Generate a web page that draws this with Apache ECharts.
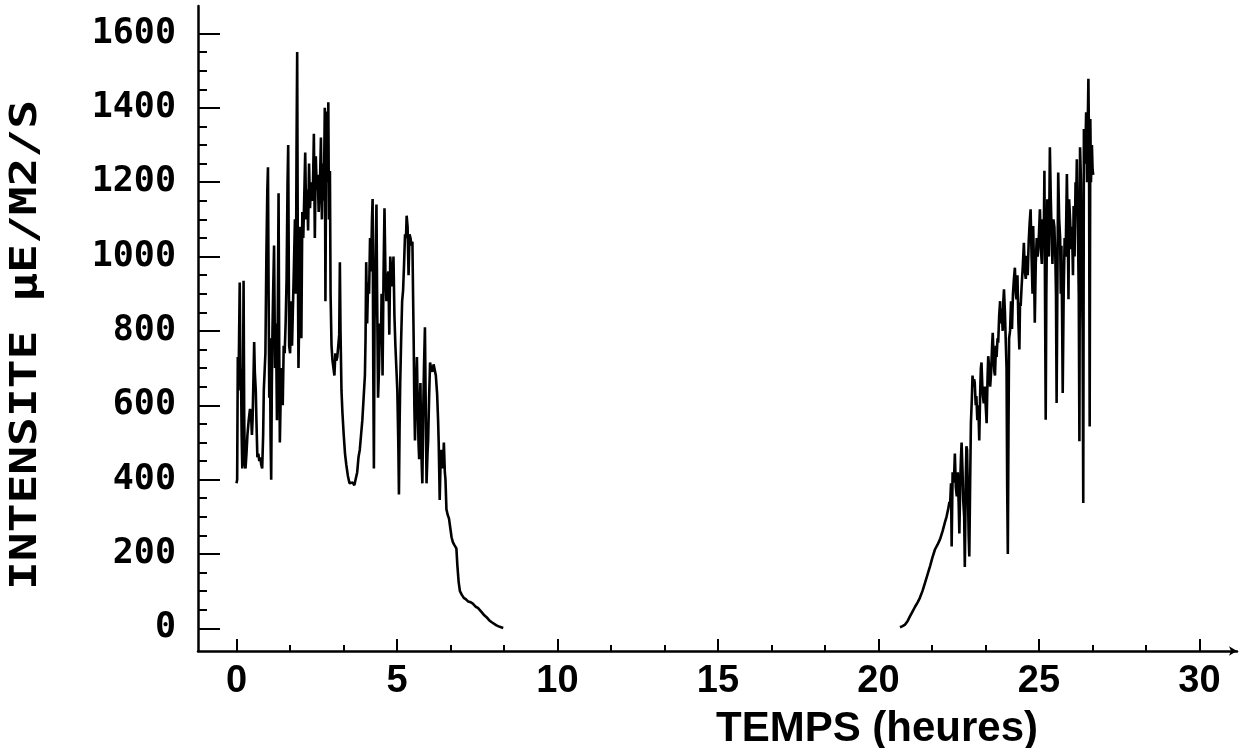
<!DOCTYPE html>
<html>
<head>
<meta charset="utf-8">
<script src="https://cdn.jsdelivr.net/npm/echarts@6/dist/echarts.min.js"></script>
<style>
html,body{margin:0;padding:0;background:#fff;}
#c{width:1241px;height:748px;}
</style>
</head>
<body>
<div id="c"></div>
<script>
// ---- data ----
const xMajorTicks = [0, 5, 10, 15, 20, 25, 30];
const xMinorTicks = [5/3, 10/3, 20/3, 25/3, 35/3, 40/3, 50/3, 55/3, 65/3, 70/3, 80/3, 85/3];
const yMajorTicks = [0, 200, 400, 600, 800, 1000, 1200, 1400, 1600];
const yMinorTicks = [50, 100, 150, 250, 300, 350, 450, 500, 550, 650, 700, 750, 850, 900, 950, 1050, 1100, 1150, 1250, 1300, 1350, 1450, 1500, 1550];
const xTitle = 'TEMPS (heures)';
const yTitle = 'INTENSITE μE/M2/S';

// day 1 : time (h), intensity
const day1 = [[0.00,390],[0.02,400],[0.04,730],[0.06,640],[0.08,780],[0.10,930],[0.12,700],[0.14,680],[0.16,520],[0.18,430],[0.20,620],[0.22,935],[0.24,560],[0.26,440],[0.28,430],[0.31,470],[0.34,520],[0.38,560],[0.42,590],[0.45,580],[0.48,520],[0.50,560],[0.53,680],[0.55,770],[0.57,690],[0.60,640],[0.62,560],[0.65,460],[0.68,470],[0.71,450],[0.74,460],[0.77,440],[0.80,430],[0.83,520],[0.85,640],[0.88,700],[0.90,740],[0.93,1000],[0.96,1180],[0.98,1240],[1.00,900],[1.02,620],[1.04,780],[1.06,520],[1.08,400],[1.10,650],[1.12,800],[1.14,900],[1.17,1030],[1.20,700],[1.23,820],[1.26,560],[1.29,900],[1.31,1170],[1.33,760],[1.35,500],[1.38,640],[1.41,700],[1.44,600],[1.47,760],[1.50,740],[1.53,820],[1.56,940],[1.59,1200],[1.61,1300],[1.64,760],[1.67,740],[1.70,880],[1.73,760],[1.76,760],[1.79,980],[1.82,1100],[1.85,900],[1.87,1300],[1.89,1550],[1.91,1000],[1.93,700],[1.96,880],[1.99,1080],[2.02,780],[2.05,1120],[2.08,1050],[2.11,1160],[2.14,1280],[2.17,1100],[2.20,1180],[2.23,1070],[2.26,1250],[2.29,1130],[2.32,1200],[2.35,1150],[2.38,1180],[2.41,1330],[2.44,1050],[2.47,1270],[2.50,1180],[2.53,1220],[2.56,1120],[2.60,1200],[2.63,1320],[2.66,1100],[2.69,1250],[2.72,1150],[2.75,1400],[2.77,880],[2.80,1390],[2.83,1200],[2.86,1415],[2.88,1100],[2.91,1230],[2.93,900],[2.96,760],[2.99,720],[3.02,700],[3.05,680],[3.08,740],[3.11,720],[3.14,730],[3.17,760],[3.20,790],[3.22,985],[3.24,800],[3.27,640],[3.30,580],[3.34,520],[3.38,470],[3.42,440],[3.47,410],[3.52,390],[3.57,385],[3.62,392],[3.67,385],[3.72,390],[3.76,420],[3.80,460],[3.84,480],[3.88,520],[3.92,560],[3.96,620],[4.00,680],[4.02,780],[4.04,985],[4.07,820],[4.10,930],[4.13,900],[4.16,1050],[4.19,960],[4.22,1100],[4.24,1155],[4.26,700],[4.28,430],[4.30,820],[4.33,1000],[4.36,1140],[4.38,900],[4.41,620],[4.44,700],[4.47,820],[4.50,780],[4.52,900],[4.55,680],[4.58,950],[4.61,1130],[4.64,950],[4.67,880],[4.70,940],[4.73,960],[4.76,790],[4.79,1000],[4.82,960],[4.86,920],[4.89,1000],[4.92,840],[4.95,760],[4.98,700],[5.01,640],[5.04,500],[5.06,360],[5.08,540],[5.10,660],[5.13,780],[5.16,880],[5.19,910],[5.22,980],[5.25,1060],[5.28,1050],[5.30,1110],[5.33,1080],[5.36,950],[5.39,1060],[5.42,1050],[5.45,1030],[5.48,1040],[5.50,900],[5.52,770],[5.54,600],[5.56,505],[5.59,640],[5.62,730],[5.65,580],[5.67,500],[5.69,455],[5.71,600],[5.73,660],[5.75,520],[5.77,440],[5.79,390],[5.82,600],[5.84,700],[5.87,810],[5.89,640],[5.92,390],[5.95,470],[5.97,505],[6.00,620],[6.03,715],[6.06,700],[6.10,690],[6.14,710],[6.18,705],[6.21,680],[6.25,630],[6.28,560],[6.30,495],[6.32,400],[6.33,345],[6.35,420],[6.37,480],[6.40,460],[6.43,430],[6.46,500],[6.49,420],[6.51,400],[6.54,320],[6.58,305],[6.62,295],[6.66,270],[6.70,245],[6.74,232],[6.78,225],[6.82,222],[6.85,215],[6.88,170],[6.92,125],[6.96,100],[7.02,90],[7.08,82],[7.15,78],[7.22,72],[7.30,70],[7.37,66],[7.45,58],[7.52,55],[7.58,52],[7.65,42],[7.72,35],[7.79,30],[7.87,22],[7.94,17],[8.00,13],[8.10,8],[8.20,4],[8.31,1]];

// day 2 : time (h), intensity
const day2 = [[20.67,3],[20.75,6],[20.83,10],[20.91,20],[20.98,32],[21.06,45],[21.14,58],[21.22,70],[21.29,82],[21.37,100],[21.45,122],[21.53,145],[21.61,168],[21.68,190],[21.76,212],[21.84,225],[21.92,240],[22.00,262],[22.07,285],[22.12,300],[22.17,320],[22.21,340],[22.23,330],[22.26,390],[22.28,220],[22.31,420],[22.35,392],[22.38,470],[22.41,380],[22.44,355],[22.47,420],[22.50,330],[22.52,255],[22.55,400],[22.57,460],[22.59,500],[22.62,420],[22.64,345],[22.67,300],[22.69,165],[22.72,400],[22.74,490],[22.76,480],[22.79,350],[22.81,250],[22.83,193],[22.86,420],[22.88,552],[22.91,620],[22.93,680],[22.96,650],[22.98,670],[23.00,660],[23.03,600],[23.05,625],[23.08,560],[23.11,600],[23.14,505],[23.17,640],[23.19,700],[23.21,715],[23.24,640],[23.26,620],[23.28,605],[23.31,650],[23.34,600],[23.37,552],[23.40,680],[23.42,732],[23.45,700],[23.48,650],[23.51,690],[23.54,760],[23.56,795],[23.59,720],[23.61,690],[23.63,680],[23.66,760],[23.68,730],[23.71,780],[23.73,768],[23.76,840],[23.79,880],[23.81,820],[23.84,860],[23.87,800],[23.89,880],[23.91,912],[23.94,850],[23.97,760],[23.99,700],[24.01,380],[24.03,200],[24.05,520],[24.07,780],[24.10,800],[24.13,880],[24.16,805],[24.19,900],[24.22,940],[24.25,970],[24.28,900],[24.30,885],[24.33,950],[24.36,820],[24.39,750],[24.41,876],[24.43,867],[24.46,920],[24.50,980],[24.53,1037],[24.56,960],[24.59,940],[24.62,1002],[24.65,950],[24.68,1040],[24.71,1090],[24.74,1127],[24.77,1000],[24.80,900],[24.82,1082],[24.85,950],[24.87,822],[24.90,980],[24.93,1050],[24.96,1000],[25.00,1060],[25.03,1127],[25.06,1020],[25.09,980],[25.12,1100],[25.15,1050],[25.17,1231],[25.19,880],[25.21,561],[25.23,900],[25.26,1154],[25.28,1050],[25.31,1000],[25.34,1294],[25.37,1150],[25.40,1050],[25.42,980],[25.45,1100],[25.48,1080],[25.51,1000],[25.53,900],[25.55,606],[25.58,1000],[25.60,1226],[25.63,1100],[25.66,1050],[25.68,900],[25.70,1029],[25.72,850],[25.74,633],[25.77,900],[25.80,1050],[25.83,1000],[25.85,1100],[25.87,1222],[25.90,1050],[25.92,885],[25.94,1154],[25.97,1100],[26.00,1020],[26.03,1080],[26.06,950],[26.08,1136],[26.11,1000],[26.14,1200],[26.16,1150],[26.18,1262],[26.21,1100],[26.24,900],[26.26,503],[26.28,1294],[26.31,1200],[26.33,1000],[26.36,800],[26.38,337],[26.40,1343],[26.43,1250],[26.45,1300],[26.47,1388],[26.50,1200],[26.52,1350],[26.54,1478],[26.56,1300],[26.58,543],[26.60,1370],[26.62,1200],[26.65,1300],[26.67,1235],[26.69,1220]];

// ---- chart ----
const X_MIN = -1.2, X_MAX = 31.17;
const Y_MIN = -61, Y_MAX = 1674;
const chart = echarts.init(document.getElementById('c'), null, {renderer: 'canvas'});

const plain = v => String(Math.round(v));
const baseX = {
  type: 'value', min: X_MIN, max: X_MAX, position: 'bottom',
  splitLine: {show: false}
};
const baseY = {
  type: 'value', min: Y_MIN, max: Y_MAX, position: 'left',
  splitLine: {show: false}
};

chart.setOption({
  animation: false,
  backgroundColor: '#fff',
  grid: {left: 198, right: 4, top: 6, bottom: 97, containLabel: false, outerBoundsMode: 'none'},
  xAxis: [
    Object.assign({}, baseX, {
      axisLine: {show: true, onZero: false, lineStyle: {color: '#000', width: 2.5}, symbol: ['none', 'arrow'], symbolSize: [7, 8]},
      axisTick: {show: true, inside: true, length: 12, customValues: xMajorTicks, lineStyle: {color: '#000', width: 2}},
      axisLabel: {show: true, customValues: xMajorTicks, formatter: plain, margin: 12, color: '#000',
        fontFamily: '"Liberation Sans", Arial, sans-serif', fontWeight: 'bold', fontSize: 38}
    }),
    Object.assign({}, baseX, {
      axisLine: {show: false, onZero: false},
      axisTick: {show: true, inside: true, length: 6, customValues: xMinorTicks, lineStyle: {color: '#000', width: 2}},
      axisLabel: {show: false}
    })
  ],
  yAxis: [
    Object.assign({}, baseY, {
      axisLine: {show: true, onZero: false, lineStyle: {color: '#000', width: 2.5}},
      axisTick: {show: true, inside: true, length: 22, customValues: yMajorTicks, lineStyle: {color: '#000', width: 2}},
      axisLabel: {show: true, customValues: yMajorTicks, formatter: plain, margin: 22, color: '#000',
        fontFamily: '"DejaVu Sans Mono", monospace', fontWeight: 'bold', fontSize: 35}
    }),
    Object.assign({}, baseY, {
      axisLine: {show: false, onZero: false},
      axisTick: {show: true, inside: true, length: 9, customValues: yMinorTicks, lineStyle: {color: '#000', width: 2}},
      axisLabel: {show: false}
    })
  ],
  graphic: [
    {
      type: 'text', x: 26, y: 345, rotation: Math.PI / 2, scaleX: 1.26,
      style: {text: yTitle, font: 'bold 38px "DejaVu Sans Mono", monospace', fill: '#000',
        align: 'center', verticalAlign: 'middle'}
    },
    {
      type: 'text', x: 877, y: 729,
      style: {text: xTitle, font: 'bold 42px "Liberation Sans", Arial, sans-serif', fill: '#000',
        align: 'center', verticalAlign: 'middle'}
    }
  ],
  series: [
    {type: 'line', xAxisIndex: 0, yAxisIndex: 0, data: day1, showSymbol: false, symbol: 'none',
      sampling: 'none', lineStyle: {color: '#000', width: 2.6}, silent: true},
    {type: 'line', xAxisIndex: 0, yAxisIndex: 0, data: day2, showSymbol: false, symbol: 'none',
      sampling: 'none', lineStyle: {color: '#000', width: 2.6}, silent: true}
  ]
});
</script>
</body>
</html>
